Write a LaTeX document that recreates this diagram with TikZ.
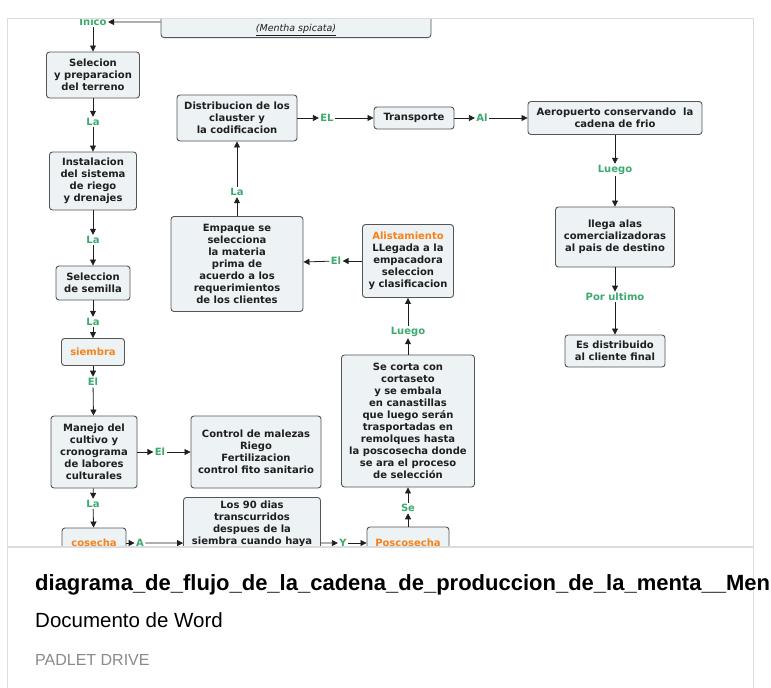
\documentclass[tikz,border=0pt]{standalone}
\usepackage{fontspec}
\usetikzlibrary{arrows.meta}
\newfontfamily\diafont{DejaVu Sans}
\newfontfamily\padfont{Liberation Sans}
\definecolor{cajafondo}{HTML}{EDF2F5}
\definecolor{cajaborde}{HTML}{555555}
\definecolor{verde}{HTML}{3BAA6E}
\definecolor{naranja}{HTML}{F7821B}
\definecolor{marco}{HTML}{DCDCDC}
\definecolor{gristxt}{HTML}{8A8A8A}
\tikzset{
    caja/.style={draw=cajaborde, fill=cajafondo, rounded corners=3pt, line width=0.9pt,
        align=center, inner sep=3pt, text=black!88,
        font=\diafont\bfseries\fontsize{10}{12}\selectfont},
    etiq/.style={text=verde, inner sep=1.3pt, font=\diafont\bfseries\fontsize{10}{12}\selectfont},
    flecha/.style={draw=black!88, line width=0.8pt, -{Triangle[length=6pt,width=6pt]}},
    naranjo/.style={text=naranja}
}
\begin{document}
\begin{tikzpicture}[x=1pt, y=-1pt]
    \useasboundingbox (0, 0) rectangle (771, 688);
    \fill[white] (0, 0) rectangle (771, 688);

    \begin{scope}
        \clip (7.5, 18.5) rectangle (752.5, 547);

        \node[caja, anchor=south, minimum width=270pt, text height=22pt, text depth=3pt,
            font=\diafont\itshape\fontsize{9.5}{12}\selectfont] (mentha) at (296, 38) {\underline{(Mentha spicata)}};

        \node[etiq] (inico) at (93, 22) {Inico};
        \node[caja, minimum width=93pt, minimum height=46pt] (sel) at (93, 75) {Selecion\\y preparacion\\del terreno};
        \node[etiq] (la1) at (93, 122) {La};
        \node[caja, minimum width=87pt, minimum height=58pt] (inst) at (93, 181) {Instalacion\\del sistema\\de riego\\y drenajes};
        \node[etiq] (la2) at (93, 240) {La};
        \node[caja, minimum width=74pt, minimum height=34pt] (semilla) at (93, 283) {Seleccion\\de semilla};
        \node[etiq] (la3) at (93, 322) {La};
        \node[caja, minimum width=63pt, minimum height=27pt, naranjo] (siembra) at (93, 352) {siembra};
        \node[etiq] (el1) at (93, 382) {El};
        \node[caja, minimum width=86pt, minimum height=72pt] (manejo) at (94, 452) {Manejo del\\cultivo y\\cronograma\\de labores\\culturales};
        \node[etiq] (la4) at (93, 504) {La};
        \node[caja, minimum width=64pt, minimum height=30pt, naranjo] (cosecha) at (94, 543) {cosecha};

        \node[etiq] (el2) at (160, 452) {El};
        \node[caja, minimum width=130pt, minimum height=72pt] (control) at (256, 452) {Control de malezas\\Riego\\Fertilizacion\\control fito sanitario};

        \node[etiq] (a1) at (140, 543) {A};
        \node[caja, anchor=north, minimum width=137pt] (dias) at (252, 497) {Los 90 dias\\transcurridos\\despues de la\\siembra cuando haya\\[30pt]\mbox{}};
        \node[etiq] (y1) at (343, 543) {Y};
        \node[caja, minimum width=82pt, minimum height=32pt, naranjo] (posco) at (408, 543) {Poscosecha};

        \node[etiq] (se1) at (408, 508) {Se};
        \node[caja, minimum width=133pt, minimum height=132pt] (corta) at (408, 421) {Se corta con\\cortaseto\\y se embala\\en canastillas\\que luego serán\\trasportadas en\\remolques hasta\\la poscosecha donde\\se ara el proceso\\de selección};
        \node[etiq] (luego1) at (408, 332) {Luego};
        \node[caja, minimum width=91pt, minimum height=73pt] (alist) at (408, 261) {\textcolor{naranja}{Alistamiento}\\LLegada a la\\empacadora\\seleccion\\y clasificacion};
        \node[etiq] (el3) at (336, 261) {El};
        \node[caja, minimum width=132pt, minimum height=95pt] (empaque) at (237, 264) {Empaque se\\selecciona\\la materia\\prima de\\acuerdo a los\\requerimientos\\de los clientes};
        \node[etiq] (la5) at (237, 192) {La};
        \node[caja, minimum width=120pt, minimum height=46pt] (distrib) at (237, 118) {Distribucion de los\\clauster y\\la codificacion};
        \node[etiq] (el4) at (327, 118) {EL};
        \node[caja, minimum width=80pt, minimum height=22pt] (transp) at (414, 118) {Transporte};
        \node[etiq] (al1) at (482, 118) {Al};
        \node[caja, minimum width=174pt, minimum height=33pt] (aero) at (615, 118) {Aeropuerto conservando\ \ la\\cadena de frio};
        \node[etiq] (luego2) at (615, 170) {Luego};
        \node[caja, minimum width=119pt, minimum height=60pt] (llega) at (615, 237) {llega alas\\comercializadoras\\al pais de destino};
        \node[etiq] (porult) at (615, 297) {Por ultimo};
        \node[caja, minimum width=100pt, minimum height=32pt] (cliente) at (615, 351) {Es distribuido\\al cliente final};

        \draw[flecha] (mentha) to (inico);
        \draw[flecha] (inico) to (sel);
        \draw[flecha] (sel) to (la1);
        \draw[flecha] (la1) to (inst);
        \draw[flecha] (inst) to (la2);
        \draw[flecha] (la2) to (semilla);
        \draw[flecha] (semilla) to (la3);
        \draw[flecha] (la3) to (siembra);
        \draw[flecha] (siembra) to (el1);
        \draw[flecha] (el1) to (manejo);
        \draw[flecha] (manejo) to (la4);
        \draw[flecha] (la4) to (cosecha);
        \draw[flecha] (manejo) to (el2);
        \draw[flecha] (el2) to (control);
        \draw[flecha] (cosecha) to (a1);
        \draw[flecha] (a1) to (dias);
        \draw[flecha] (dias) to (y1);
        \draw[flecha] (y1) to (posco);
        \draw[flecha] (posco) to (se1);
        \draw[flecha] (se1) to (corta);
        \draw[flecha] (corta) to (luego1);
        \draw[flecha] (luego1) to (alist);
        \draw[flecha] (alist) to (el3);
        \draw[flecha] (el3) to (empaque);
        \draw[flecha] (empaque) to (la5);
        \draw[flecha] (la5) to (distrib);
        \draw[flecha] (distrib) to (el4);
        \draw[flecha] (el4) to (transp);
        \draw[flecha] (transp) to (al1);
        \draw[flecha] (al1) to (aero);
        \draw[flecha] (aero) to (luego2);
        \draw[flecha] (luego2) to (llega);
        \draw[flecha] (llega) to (porult);
        \draw[flecha] (porult) to (cliente);
    \end{scope}

    \draw[marco, line width=1pt] (7, 688) -- (7, 18) -- (753, 18) -- (753, 688);
    \draw[marco, line width=1.6pt] (7, 547) -- (753, 547);

    \node[anchor=base west, inner sep=0pt, font=\padfont\bfseries\fontsize{22}{26}\selectfont] (titulo) at (35, 590)
        {diagrama\_de\_flujo\_de\_la\_cadena\_de\_produccion\_de\_la\_menta\_\_Men};
    \node[anchor=base west, inner sep=0pt, font=\padfont\fontsize{20.5}{24}\selectfont] (tipo) at (35, 627) {Documento de Word};
    \node[anchor=base west, inner sep=0pt, text=gristxt, font=\padfont\fontsize{16}{19}\selectfont] (origen) at (35, 665) {PADLET DRIVE};
\end{tikzpicture}
\end{document}
